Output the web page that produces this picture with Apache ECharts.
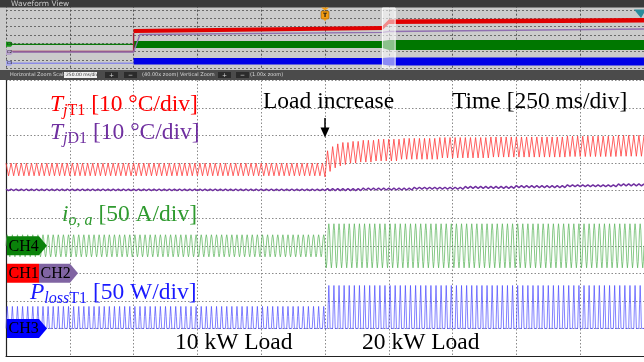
<!DOCTYPE html>
<html><head><meta charset="utf-8">
<script src="https://cdn.jsdelivr.net/npm/echarts@6/dist/echarts.min.js"></script>
<style>html,body{margin:0;padding:0;background:#fff}#c{width:644px;height:362px}</style>
</head><body><div id="c"></div>
<script>
// ================= DATA =================
const timeDivMs  = 250;          // Time [250 ms/div]
const spanMs     = 2500;         // 10 divisions
const loadStepMs = 1250;         // "Load increase"
const halfCycleMs = 10;          // 50 Hz -> ripple peak / trough every 10 ms
const cycleMs    = 20;

// TjT1 ripple envelope [°C], 10 °C/div
const tjT1EnvMs   = [0,    1250, 1260, 1280, 1300, 1320, 1350, 1390, 1450, 1550, 1700, 1900, 2200, 2400];
const tjT1PeakC   = [40.0, 44.0, 44.5, 46.0, 47.0, 47.5, 47.9, 48.3, 48.7, 49.0, 49.3, 49.5, 49.8, 50.1];
const tjT1TroughC = [35.4, 35.0, 37.0, 38.3, 39.0, 39.5, 40.0, 40.4, 40.8, 41.4, 41.9, 42.2, 42.4, 42.5];

// TjD1 mean and ripple [°C]
const tjD1EnvMs   = [0,    1250, 1400, 1600, 1800, 2000, 2200, 2400];
const tjD1MeanC   = [30.3, 30.4, 30.6, 30.9, 31.2, 31.5, 31.8, 32.1];
const tjD1RippleC = [0.25, 0.35, 0.35, 0.35, 0.35, 0.35, 0.35, 0.35];

// io,a phase current amplitude [A], 50 A/div
const ioEnvMs   = [0, 1250];
const ioAmpA    = [20, 40];
const ioCycleShape = [0, 0.71, 1, 0.71, 0, -0.71, -1, -0.71];

// PlossT1 pulse peak [W], 50 W/div
const plossEnvMs = [0, 1250];
const plossPeakW = [40, 78];
const plossCycleShape = [0, 0.55, 1, 0.55, 0, 0, 0, 0];

// Overview ("Waveform View") traces, time in s (10 s/div), level in overview divisions
const ovTimeS      = [20, 59, 60, 100];
const ovRedLoDiv   = [4.24, 4.60, 5.32, 5.50];
const ovRedHiDiv   = [4.72, 5.08, 5.86, 6.04];
const ovRedIdleDiv = 2.02;
const ovPurpleDiv  = [4.06, 4.32, 4.42, 4.72];
const ovPurpleIdleDiv = 1.96;
const ovGreenLoDiv = [2.44, 2.44, 2.20, 2.20];
const ovGreenHiDiv = [3.28, 3.28, 3.40, 3.40];
const ovGreenIdleDiv = 2.88;
const ovBlueLoDiv  = [0.46, 0.46, 0.34, 0.34];
const ovBlueHiDiv  = [1.24, 1.24, 1.30, 1.30];
const ovBlueIdleDiv = 0.60;
const ovWindowS    = [59, 61];
const ovTriggerS   = 50;

// ================= helpers =================
function envAt(ts, vs, t){ let v = vs[0]; for (let i = 0; i < ts.length; i++) if (ts[i] <= t) v = vs[i]; return v; }

const redData = [], purpleData = [], greenData = [], blueData = [];
for (let k = 0; k * halfCycleMs <= spanMs; k++) {
  const t = k * halfCycleMs;
  const isPeak = (k % 2 === 0);
  redData.push([t, isPeak ? envAt(tjT1EnvMs, tjT1PeakC, t) : envAt(tjT1EnvMs, tjT1TroughC, t)]);
  const m = envAt(tjD1EnvMs, tjD1MeanC, t), r = envAt(tjD1EnvMs, tjD1RippleC, t);
  purpleData.push([t, isPeak ? m + r : m - r]);
}
const nS = ioCycleShape.length;
for (let k = 0; k * cycleMs / nS <= spanMs; k++) {
  const t = k * cycleMs / nS;
  greenData.push([t, envAt(ioEnvMs, ioAmpA, t) * ioCycleShape[k % nS]]);
  blueData.push([t, envAt(plossEnvMs, plossPeakW, t) * plossCycleShape[k % plossCycleShape.length]]);
}

function bandSeries(lo, hi, color){
  return {
    type: 'custom', xAxisIndex: 1, yAxisIndex: 3, silent: true, z: 3,
    data: ovTimeS.map((t, i) => [t, lo[i], hi[i]]),
    renderItem(params, api){
      if (params.dataIndex !== 0) return null;
      const pts = [];
      for (let i = 0; i < ovTimeS.length; i++) pts.push(api.coord([ovTimeS[i], hi[i]]));
      for (let i = ovTimeS.length - 1; i >= 0; i--) pts.push(api.coord([ovTimeS[i], lo[i]]));
      return { type: 'polygon', shape: { points: pts }, style: { fill: color } };
    }
  };
}
function idleLine(level, next, color, w){
  return { type: 'line', xAxisIndex: 1, yAxisIndex: 3, symbol: 'none', silent: true, z: 3,
    data: [[0, level], [ovTimeS[0], level], [ovTimeS[0], next]],
    lineStyle: { color, width: w } };
}

const SERIF = '"Liberation Serif", "Times New Roman", serif';
const SANS = '"DejaVu Sans", sans-serif';

const chart = echarts.init(document.getElementById('c'));
chart.setOption({
  animation: false,
  backgroundColor: '#ffffff',
  grid: [
    { left: 6, top: 80.5, width: 644, height: 275.5, show: false },
    { left: 6, top: 1.7, width: 644, height: 66.6, show: false }
  ],
  xAxis: [
    { type: 'value', gridIndex: 0, min: 0, max: spanMs, interval: timeDivMs,
      axisLabel: { show: false }, axisTick: { show: false },
      axisLine: { show: true, onZero: false, lineStyle: { color: '#222', width: 1.2 } },
      splitLine: { show: true, lineStyle: { color: '#8a8a8a', type: [1.5, 2], width: 1 } } },
    { type: 'value', gridIndex: 1, min: 0, max: 100, interval: 10,
      axisLabel: { show: false }, axisTick: { show: false }, axisLine: { show: false },
      splitLine: { show: true, lineStyle: { color: '#555', type: [2, 2], width: 1 } } }
  ],
  yAxis: [
    { type: 'value', gridIndex: 0, min: -30, max: 70, interval: 10,
      axisLabel: { show: false }, axisTick: { show: false },
      axisLine: { show: true, onZero: false, lineStyle: { color: '#222', width: 1.2 } },
      splitLine: { show: true, lineStyle: { color: '#8a8a8a', type: [1.5, 2], width: 1 } } },
    { type: 'value', gridIndex: 0, min: -200, max: 300, interval: 50,
      axisLabel: { show: false }, axisTick: { show: false }, axisLine: { show: false }, splitLine: { show: false } },
    { type: 'value', gridIndex: 0, min: -50, max: 450, interval: 50,
      axisLabel: { show: false }, axisTick: { show: false }, axisLine: { show: false }, splitLine: { show: false } },
    { type: 'value', gridIndex: 1, min: 0, max: 8, interval: 1,
      axisLabel: { show: false }, axisTick: { show: false }, axisLine: { show: false },
      splitLine: { show: true, lineStyle: { color: '#6a6a6a', type: [2, 2], width: 1 } } }
  ],
  series: [
    { name: 'TjT1', type: 'line', xAxisIndex: 0, yAxisIndex: 0, data: redData, symbol: 'none', silent: true,
      lineStyle: { color: '#ff3b3b', width: 0.8 } },
    { name: 'TjD1', type: 'line', xAxisIndex: 0, yAxisIndex: 0, data: purpleData, symbol: 'none', silent: true,
      lineStyle: { color: '#7030a0', width: 1.5 } },
    { name: 'io,a', type: 'line', xAxisIndex: 0, yAxisIndex: 1, data: greenData, symbol: 'none', silent: true,
      lineStyle: { color: '#55b255', width: 0.7 } },
    { name: 'PlossT1', type: 'line', xAxisIndex: 0, yAxisIndex: 2, data: blueData, symbol: 'none', silent: true,
      lineStyle: { color: '#4a4aff', width: 0.7 } },
    // overview
    idleLine(ovGreenIdleDiv, ovGreenIdleDiv, '#0a7a0a', 1.2),
    bandSeries(ovGreenLoDiv, ovGreenHiDiv, '#007700'),
    idleLine(ovBlueIdleDiv, ovBlueIdleDiv, '#8c8ce6', 1.5),
    bandSeries(ovBlueLoDiv, ovBlueHiDiv, '#0000e6'),
    idleLine(ovRedIdleDiv, ovRedLoDiv[0], '#a0203a', 1.4),
    bandSeries(ovRedLoDiv, ovRedHiDiv, '#e00000'),
    { type: 'line', xAxisIndex: 1, yAxisIndex: 3, symbol: 'none', silent: true, z: 4,
      data: [[0, ovPurpleIdleDiv], [ovTimeS[0], ovPurpleIdleDiv]].concat(ovTimeS.map((t, i) => [t + (i === 0 ? 1 : 0), ovPurpleDiv[i]])),
      lineStyle: { color: '#9070b0', width: 1.3 } }
  ]
});

// ================= annotations =================
const mctx = document.createElement('canvas').getContext('2d');
function tw(str, size, italic){ mctx.font = (italic ? 'italic ' : '') + size + 'px ' + SERIF; return mctx.measureText(str).width; }
function label(x0, yMid, color, pieces){
  const out = []; let x = x0;
  pieces.forEach(p => {
    const [txt, size, italic, dy] = p;
    out.push({ type: 'text', x, y: yMid + (dy || 0), z: 50,
      style: { text: txt, fill: color, font: (italic ? 'italic ' : '') + size + 'px ' + SERIF, verticalAlign: 'middle', align: 'left' } });
    x += tw(txt, size, italic);
  });
  return out;
}
const FS = 23.5, SUB = 16, SDY = 6;
const g = [];
// overview chrome
g.push({ type: 'rect', shape: { x: 0, y: 7, width: 644, height: 63 }, style: { fill: '#cbcbcb' }, z: -10 });
g.push({ type: 'rect', shape: { x: 0, y: 0, width: 644, height: 7.5 }, style: { fill: '#3a3a3a' }, z: 20 });
g.push({ type: 'text', x: 11, y: 4, z: 21, style: { text: 'Waveform View', fill: '#c8c8c8', font: '7.5px ' + SANS, verticalAlign: 'middle' } });
g.push({ type: 'rect', shape: { x: 0, y: 70, width: 644, height: 10 }, style: { fill: '#4b4b4b' }, z: 20 });
const tb = [
  ['Horizontal Zoom Scale', 10, '#d8d8d8'], ['(40.00x zoom)', 142, '#d8d8d8'], ['Vertical Zoom', 180, '#d8d8d8'], ['(1.00x zoom)', 250, '#d8d8d8']
];
tb.forEach(([t, x, c]) => g.push({ type: 'text', x, y: 75, z: 22, style: { text: t, fill: c, font: '5px ' + SANS, verticalAlign: 'middle' } }));
g.push({ type: 'rect', shape: { x: 64, y: 72, width: 33, height: 6 }, style: { fill: '#f0f0f0' }, z: 21 });
g.push({ type: 'text', x: 66, y: 75, z: 22, style: { text: '250.00 ms/div', fill: '#333', font: '4.5px ' + SANS, verticalAlign: 'middle' } });
[[105, '+'], [124, '−'], [218, '+'], [236, '−']].forEach(([x, s]) => {
  g.push({ type: 'rect', shape: { x, y: 72, width: 13, height: 6 }, style: { fill: '#2b2b2b' }, z: 21 });
  g.push({ type: 'text', x: x + 6.5, y: 75, z: 22, style: { text: s, fill: '#ddd', font: '6px ' + SANS, align: 'center', verticalAlign: 'middle' } });
});

// window highlight and trigger in overview
const wx0 = chart.convertToPixel({ xAxisIndex: 1 }, ovWindowS[0]);
const wx1 = chart.convertToPixel({ xAxisIndex: 1 }, ovWindowS[1]);
g.push({ type: 'rect', shape: { x: wx0, y: 8, width: wx1 - wx0, height: 60 }, style: { fill: 'rgba(255,255,255,0.55)', stroke: 'rgba(255,255,255,0.9)', lineWidth: 1 }, z: 30 });
const tx = chart.convertToPixel({ xAxisIndex: 1 }, ovTriggerS);
g.push({ type: 'polygon', shape: { points: [[tx - 4, 7.5], [tx + 4, 7.5], [tx, 10.5]] }, style: { fill: '#f39c12' }, z: 31 });
g.push({ type: 'rect', shape: { x: tx - 4, y: 11, width: 8, height: 8, r: 1 }, style: { fill: '#f39c12', stroke: '#7a4a00', lineWidth: 0.5 }, z: 31 });
g.push({ type: 'text', x: tx, y: 15.2, z: 32, style: { text: 'T', fill: '#111', font: 'bold 6px ' + SANS, align: 'center', verticalAlign: 'middle' } });
g.push({ type: 'polygon', shape: { points: [[tx - 2, 19], [tx + 2, 19], [tx, 21]] }, style: { fill: '#f39c12' }, z: 31 });
g.push({ type: 'polygon', shape: { points: [[634, 9.5], [646, 9.5], [641, 18]] }, style: { fill: '#2b8c9c' }, z: 31 });
// overview channel tags
function ovTag(level, color, txt){
  const y = chart.convertToPixel({ yAxisIndex: 3 }, level);
  g.push({ type: 'polygon', shape: { points: [[6, y - 2.5], [11, y - 2.5], [13, y], [11, y + 2.5], [6, y + 2.5]] }, style: { fill: color }, z: 31 });
  g.push({ type: 'text', x: 7, y, z: 32, style: { text: txt, fill: '#111', font: '4px ' + SANS, verticalAlign: 'middle' } });
}
ovTag(ovGreenIdleDiv, '#1a9a1a', 'C4');
ovTag(ovPurpleIdleDiv - 0.05, '#b7a3cc', 'C2');
ovTag(ovBlueIdleDiv, '#a8a8ee', 'C3');

// main channel tags at channel zero levels
function chTag(x0, y, color, txt, w){
  g.push({ type: 'polygon', shape: { points: [[x0, y - 9.5], [x0 + w, y - 9.5], [x0 + w + 8, y], [x0 + w, y + 9.5], [x0, y + 9.5]] }, style: { fill: color }, z: 40 });
  g.push({ type: 'text', x: x0 + 1.5, y: y + 0.5, z: 41, style: { text: txt, fill: '#000', font: '16px ' + SERIF, verticalAlign: 'middle' } });
}
const yIo = chart.convertToPixel({ yAxisIndex: 1 }, 0);
const yTj = chart.convertToPixel({ yAxisIndex: 0 }, 0);
const yPl = chart.convertToPixel({ yAxisIndex: 2 }, 0);
chTag(7, yIo, '#0a820a', 'CH4', 32);
chTag(7, yTj, '#ff0000', 'CH1', 32);
chTag(39, yTj, '#8064a2', 'CH2', 31);
chTag(7, yPl, '#0000ff', 'CH3', 32);

// labels
g.push(...label(50, 105, '#ff0000', [['T', FS, true], ['j', SUB, true, SDY], ['T1', SUB, false, SDY], [' [10 °C/div]', FS, false]]));
g.push(...label(50, 133, '#7030a0', [['T', FS, true], ['j', SUB, true, SDY], ['D1', SUB, false, SDY], [' [10 °C/div]', FS, false]]));
g.push(...label(62, 215, '#2f9a2f', [['i', FS, true], ['o, a', SUB, true, SDY], [' [50 A/div]', FS, false]]));
g.push(...label(30, 293, '#1a1aff', [['P', FS, true], ['loss', SUB, true, SDY], ['T1', SUB, false, SDY], [' [50 W/div]', FS, false]]));
g.push({ type: 'text', x: 263, y: 102, z: 50, style: { text: 'Load increase', fill: '#000', font: FS + 'px ' + SERIF, verticalAlign: 'middle' } });
g.push({ type: 'text', x: 452, y: 102, z: 50, style: { text: 'Time [250 ms/div]', fill: '#000', font: FS + 'px ' + SERIF, verticalAlign: 'middle' } });
g.push({ type: 'text', x: 175, y: 343, z: 50, style: { text: '10 kW Load', fill: '#000', font: FS + 'px ' + SERIF, verticalAlign: 'middle' } });
g.push({ type: 'text', x: 362, y: 343, z: 50, style: { text: '20 kW Load', fill: '#000', font: FS + 'px ' + SERIF, verticalAlign: 'middle' } });
// arrow at the load step
const ax = chart.convertToPixel({ xAxisIndex: 0 }, loadStepMs);
g.push({ type: 'line', shape: { x1: ax, y1: 118, x2: ax, y2: 129 }, style: { stroke: '#000', lineWidth: 1.5 }, z: 50 });
g.push({ type: 'polygon', shape: { points: [[ax - 4.5, 127.5], [ax + 4.5, 127.5], [ax, 137.5]] }, style: { fill: '#000' }, z: 50 });

chart.setOption({ graphic: { elements: g } });
</script>
</body></html>
